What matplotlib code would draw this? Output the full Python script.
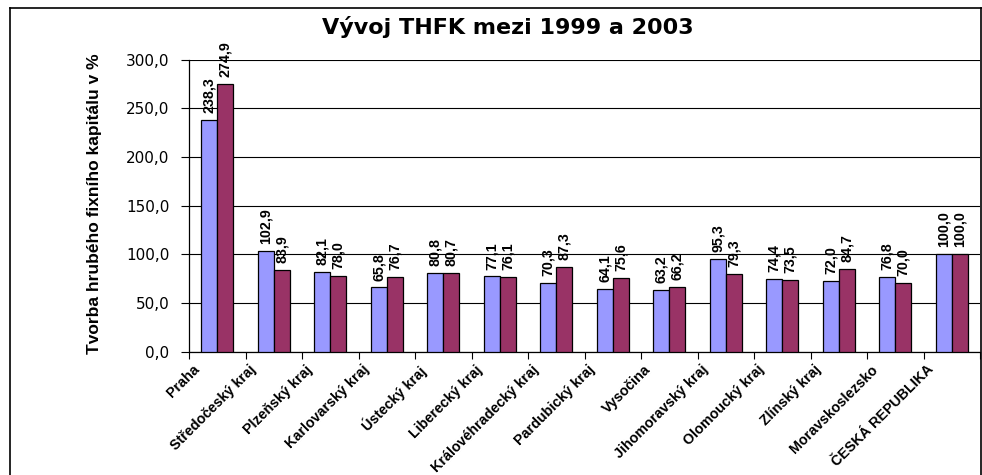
import matplotlib
matplotlib.use("Agg")
import matplotlib.pyplot as plt
import numpy as np
import matplotlib.transforms as mtrans
from matplotlib.ticker import FuncFormatter, FixedLocator
from matplotlib.lines import Line2D

categories = ["Praha", "Středočeský kraj", "Plzeňský kraj", "Karlovarský kraj",
              "Ústecký kraj", "Liberecký kraj", "Královéhradecký kraj",
              "Pardubický kraj", "Vysočina", "Jihomoravský kraj", "Olomoucký kraj",
              "Zlínský kraj", "Moravskoslezsko", "ČESKÁ REPUBLIKA"]
values_1999 = [238.3, 102.9, 82.1, 65.8, 80.8, 77.1, 70.3, 64.1, 63.2, 95.3, 74.4, 72.0, 76.8, 100.0]
values_2003 = [274.9, 83.9, 78.0, 76.7, 80.7, 76.1, 87.3, 75.6, 66.2, 79.3, 73.5, 84.7, 70.0, 100.0]

title = "Vývoj THFK mezi 1999 a 2003"
ylabel = "Tvorba hrubého fixního kapitálu v %"

plt.rcParams['font.family'] = ['Liberation Sans', 'DejaVu Sans']

W, H = 982, 475
fig = plt.figure(figsize=(W/100, H/100), dpi=100)
left, right, top, bottom = 189, 980, 59.5, 351.5
ax = fig.add_axes([left/W, 1-bottom/H, (right-left)/W, (bottom-top)/H])

x = np.arange(len(categories))
w = 0.285
b1 = ax.bar(x - w/2, values_1999, w, color="#9999FF", edgecolor="black", linewidth=0.9, zorder=3)
b2 = ax.bar(x + w/2, values_2003, w, color="#993366", edgecolor="black", linewidth=0.9, zorder=3)

fmt = lambda v: f"{v:.1f}".replace(".", ",")
for bars, vals in ((b1, values_1999), (b2, values_2003)):
    for r, v in zip(bars, vals):
        ax.annotate(fmt(v), (r.get_x() + r.get_width()/2, r.get_height()),
                    xytext=(0, 5), textcoords="offset points", rotation=90,
                    ha="center", va="bottom", fontsize=10.3, fontweight="bold",
                    clip_on=False, zorder=4)

ax.set_xlim(-0.5, len(categories) - 0.5)
ax.set_ylim(0, 300)
ax.yaxis.set_major_locator(FixedLocator(np.arange(0, 301, 50)))
ax.yaxis.set_major_formatter(FuncFormatter(lambda v, p: fmt(v)))
ax.grid(axis="y", color="black", linewidth=0.8, zorder=0)
ax.set_axisbelow(True)

ax.xaxis.set_major_locator(FixedLocator(np.arange(-0.5, len(categories), 1.0)))
ax.set_xticklabels([])
ax.tick_params(axis="x", length=5, width=0.8, direction="out")
ax.tick_params(axis="y", length=6, width=0.8, direction="out", pad=8)
for lab in ax.get_yticklabels():
    lab.set_fontfamily("DejaVu Sans")
    lab.set_fontsize(11)

off = mtrans.ScaledTranslation(-25/100, -11/100, fig.dpi_scale_trans)
tr = mtrans.blended_transform_factory(ax.transData, ax.transAxes) + off
for i, c in enumerate(categories):
    ax.text(i, 0, c, transform=tr, rotation=45, ha="right", va="top",
            rotation_mode="anchor", fontsize=10.3, fontweight="bold")

ax.spines["top"].set_visible(False)
ax.spines["right"].set_visible(False)
ax.spines["left"].set_linewidth(0.9)
ax.spines["bottom"].set_linewidth(0.9)

fig.text(95/W, 1-204/H, ylabel, rotation=90, ha="center", va="center",
         fontsize=12.5, fontweight="bold")

fig.text(508/W, 1-27/H, title, ha="center", va="center", fontsize=16,
         fontweight="bold", family=["DejaVu Sans"])

# outer chart border
lw = 1.2
fig.add_artist(Line2D([10/W, 10/W], [0, 1-8/H], color="black", linewidth=lw, transform=fig.transFigure))
fig.add_artist(Line2D([10/W, 1], [1-8/H, 1-8/H], color="black", linewidth=lw, transform=fig.transFigure))
fig.add_artist(Line2D([980.5/W, 980.5/W], [0, 1-8/H], color="black", linewidth=lw, transform=fig.transFigure))

fig.savefig("out.png", dpi=100)
